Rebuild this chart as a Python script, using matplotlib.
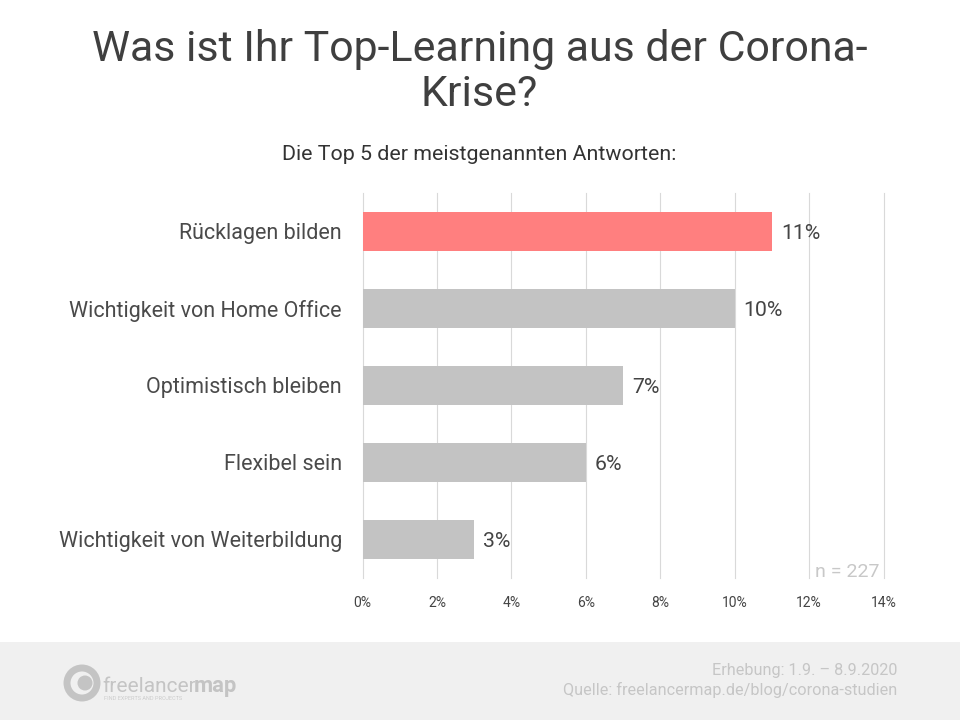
import matplotlib
matplotlib.use('Agg')
import matplotlib.pyplot as plt
from matplotlib.patches import Circle, Rectangle

plt.rcParams['font.family'] = ['Roboto', 'DejaVu Sans']

categories = ['Rücklagen bilden', 'Wichtigkeit von Home Office', 'Optimistisch bleiben',
              'Flexibel sein', 'Wichtigkeit von Weiterbildung']
values = [11, 10, 7, 6, 3]
bar_colors = ['#ff7f7f', '#c3c3c3', '#c3c3c3', '#c3c3c3', '#c3c3c3']
x_ticks = [0, 2, 4, 6, 8, 10, 12, 14]

W, H = 960, 720
fig = plt.figure(figsize=(W / 100, H / 100), dpi=100, facecolor='white')

# plot area in pixels
left, right, top, bottom = 362.5, 883.5, 193, 578
ax = fig.add_axes([left / W, 1 - bottom / H, (right - left) / W, (bottom - top) / H])

y = list(range(len(categories)))
ax.barh(y, values, height=0.5, color=bar_colors, zorder=3)
ax.set_xlim(0, 14)
ax.set_ylim(len(categories) - 0.5, -0.5)
ax.set_xticks(x_ticks)
ax.set_xticklabels([f'{t}%' for t in x_ticks], fontsize=10, color='#444444')
ax.set_yticks(y)
ax.set_yticklabels(categories, fontsize=15.5, color='#4a4a4a')
ax.tick_params(axis='both', length=0)
ax.tick_params(axis='x', pad=13)
ax.tick_params(axis='y', pad=14.8)
ax.grid(axis='x', color='#d9d9d9', linewidth=0.8, zorder=0)
for line in ax.get_xgridlines():
    line.set_clip_on(False)
for s in ax.spines.values():
    s.set_visible(False)

for i, v in enumerate(values):
    ax.text(v + 0.24, i + 0.03, f'{v}%', fontsize=15.3, color='#444444', va='center', ha='left', zorder=4)

# full-figure overlay in pixel coordinates
ov = fig.add_axes([0, 0, 1, 1], facecolor='none')
ov.set_xlim(0, W)
ov.set_ylim(H, 0)
ov.axis('off')

ov.text(479.5, 49, 'Was ist Ihr Top-Learning aus der Corona-', fontsize=30.9, color='#3f3f3f', ha='center', va='center')
ov.text(479.5, 94, 'Krise?', fontsize=30.9, color='#3f3f3f', ha='center', va='center')
ov.text(479, 154, 'Die Top 5 der meistgenannten Antworten:', fontsize=15.4, color='#333333', ha='center', va='center')
ov.text(847, 572, 'n = 227', fontsize=14, color='#c8c8c8', ha='center', va='center')

# footer band
ov.add_patch(Rectangle((0, 642), W, 78, facecolor='#f0f0f0', edgecolor='none'))
ov.text(897, 671, 'Erhebung: 1.9. – 8.9.2020', fontsize=11.7, color='#c6c6c6', ha='right', va='center')
ov.text(897, 690, 'Quelle: freelancermap.de/blog/corona-studien', fontsize=11.7, color='#c6c6c6', ha='right', va='center')

# logo
ov.add_patch(Circle((82, 683), 15, facecolor='none', edgecolor='#c4c4c4', linewidth=5))
ov.add_patch(Circle((85, 683), 7.5, facecolor='#c4c4c4', edgecolor='none'))
ov.text(102, 686, 'freelancer', fontsize=15, color='#c4c4c4', ha='left', va='center')
ov.text(194, 686, 'map', fontsize=15.8, color='#c4c4c4', fontweight='bold', ha='left', va='center')
ov.text(104, 699, 'FIND EXPERTS AND PROJECTS', fontsize=4, color='#cccccc', ha='left', va='center')

fig.savefig('out.png', dpi=100)
